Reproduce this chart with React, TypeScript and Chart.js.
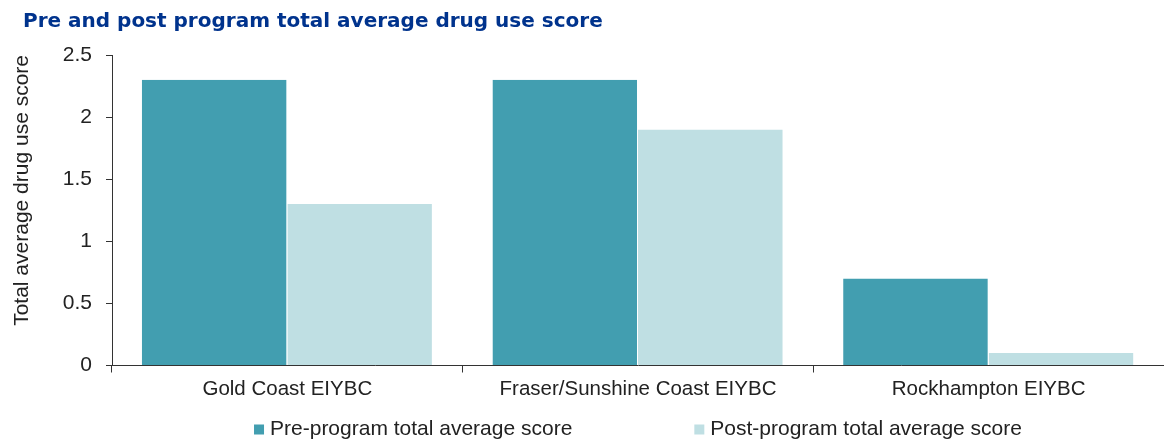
import React, { useEffect, useRef } from "react";
import { Chart, registerables } from "chart.js";

Chart.register(...registerables);

const chartTitle = "Pre and post program total average drug use score";
const yAxisTitle = "Total average drug use score";
const categories = ["Gold Coast EIYBC", "Fraser/Sunshine Coast EIYBC", "Rockhampton EIYBC"];
const seriesLabels = ["Pre-program total average score", "Post-program total average score"];
const preValues = [2.3, 2.3, 0.7];
const postValues = [1.3, 1.9, 0.1];
const yTicks = [0, 0.5, 1, 1.5, 2, 2.5];

const seriesColors = ["#429EB0", "#BFDFE3"];
const textColor = "#222222";
const axisColor = "#333333";
const baseFont = '"Liberation Sans", Arial, sans-serif';

const legendPlugin = {
  id: "bottomLegend",
  afterDraw(chart: any) {
    const { ctx, chartArea } = chart;
    const box = 10;
    const textGap = 16;
    const itemGap = 122;
    ctx.save();
    ctx.font = `21px ${baseFont}`;
    ctx.textBaseline = "middle";
    ctx.textAlign = "left";
    const items = chart.data.datasets.map((ds: any) => ({
      text: ds.label as string,
      color: ds.backgroundColor as string,
      w: ctx.measureText(ds.label).width,
    }));
    const total =
      items.reduce((s: number, it: any) => s + textGap + it.w, 0) + itemGap * (items.length - 1);
    let x = (chartArea.left + chartArea.right) / 2 - total / 2;
    const y = chart.height - 12.5;
    items.forEach((it: any) => {
      ctx.fillStyle = it.color;
      ctx.fillRect(x, y - box / 2, box, box);
      ctx.fillStyle = textColor;
      ctx.fillText(it.text, x + textGap, y);
      x += textGap + it.w + itemGap;
    });
    ctx.restore();
  },
};

export default function App() {
  const canvasRef = useRef<HTMLCanvasElement | null>(null);

  useEffect(() => {
    const canvas = canvasRef.current;
    if (!canvas) return;
    const chart = new Chart(canvas, {
      type: "bar",
      data: {
        labels: categories,
        datasets: [
          {
            label: seriesLabels[0],
            data: preValues,
            backgroundColor: seriesColors[0],
            borderColor: "#ffffff",
            borderWidth: { top: 0, left: 0, bottom: 0, right: 1 },
            borderSkipped: false,
          },
          {
            label: seriesLabels[1],
            data: postValues,
            backgroundColor: seriesColors[1],
            borderColor: "#ffffff",
            borderWidth: { top: 0, left: 0, bottom: 0, right: 1 },
            borderSkipped: false,
          },
        ],
      },
      plugins: [legendPlugin],
      options: {
        responsive: false,
        animation: false,
        devicePixelRatio: 1,
        events: [],
        layout: { padding: { top: 55, left: 10, right: 0, bottom: 0 } },
        plugins: {
          legend: { display: false },
          title: { display: false },
          tooltip: { enabled: false },
        },
        datasets: {
          bar: { categoryPercentage: 0.83, barPercentage: 1.0 },
        },
        scales: {
          x: {
            offset: true,
            grid: {
              display: true,
              drawOnChartArea: false,
              drawTicks: true,
              tickLength: 7,
              color: axisColor,
              offset: true,
            },
            border: { display: true, color: axisColor, width: 1 },
            ticks: {
              color: textColor,
              font: { family: baseFont, size: 20.5 },
              padding: 5,
              maxRotation: 0,
              autoSkip: false,
            },
            afterFit: (s: any) => {
              s.height = 76.5;
            },
          },
          y: {
            min: 0,
            max: 2.5,
            afterBuildTicks: (s: any) => {
              s.ticks = yTicks.map((v) => ({ value: v }));
            },
            grid: {
              display: true,
              drawOnChartArea: false,
              drawTicks: true,
              tickLength: 6,
              color: axisColor,
            },
            border: { display: true, color: axisColor, width: 1 },
            ticks: {
              color: textColor,
              font: { family: baseFont, size: 21 },
              padding: 14,
              callback: (v: any) => String(v),
            },
            title: {
              display: true,
              text: yAxisTitle,
              align: "end",
              color: textColor,
              font: { family: baseFont, size: 21 },
              padding: { top: 0, bottom: 0 },
            },
            afterFit: (s: any) => {
              s.width = 102;
            },
          },
        },
      },
    } as any);
    return () => chart.destroy();
  }, []);

  return (
    <div style={{ position: "absolute", left: 0, top: 0, width: 1164, height: 442, background: "#ffffff" }}>
      <canvas ref={canvasRef} width={1164} height={442} style={{ position: "absolute", left: 0, top: 0 }} />
      <div
        style={{
          position: "absolute",
          left: 23,
          top: 8,
          font: 'bold 20px "DejaVu Sans", sans-serif',
          lineHeight: "24px",
          color: "#00338D",
          whiteSpace: "nowrap",
        }}
      >
        {chartTitle}
      </div>
    </div>
  );
}
